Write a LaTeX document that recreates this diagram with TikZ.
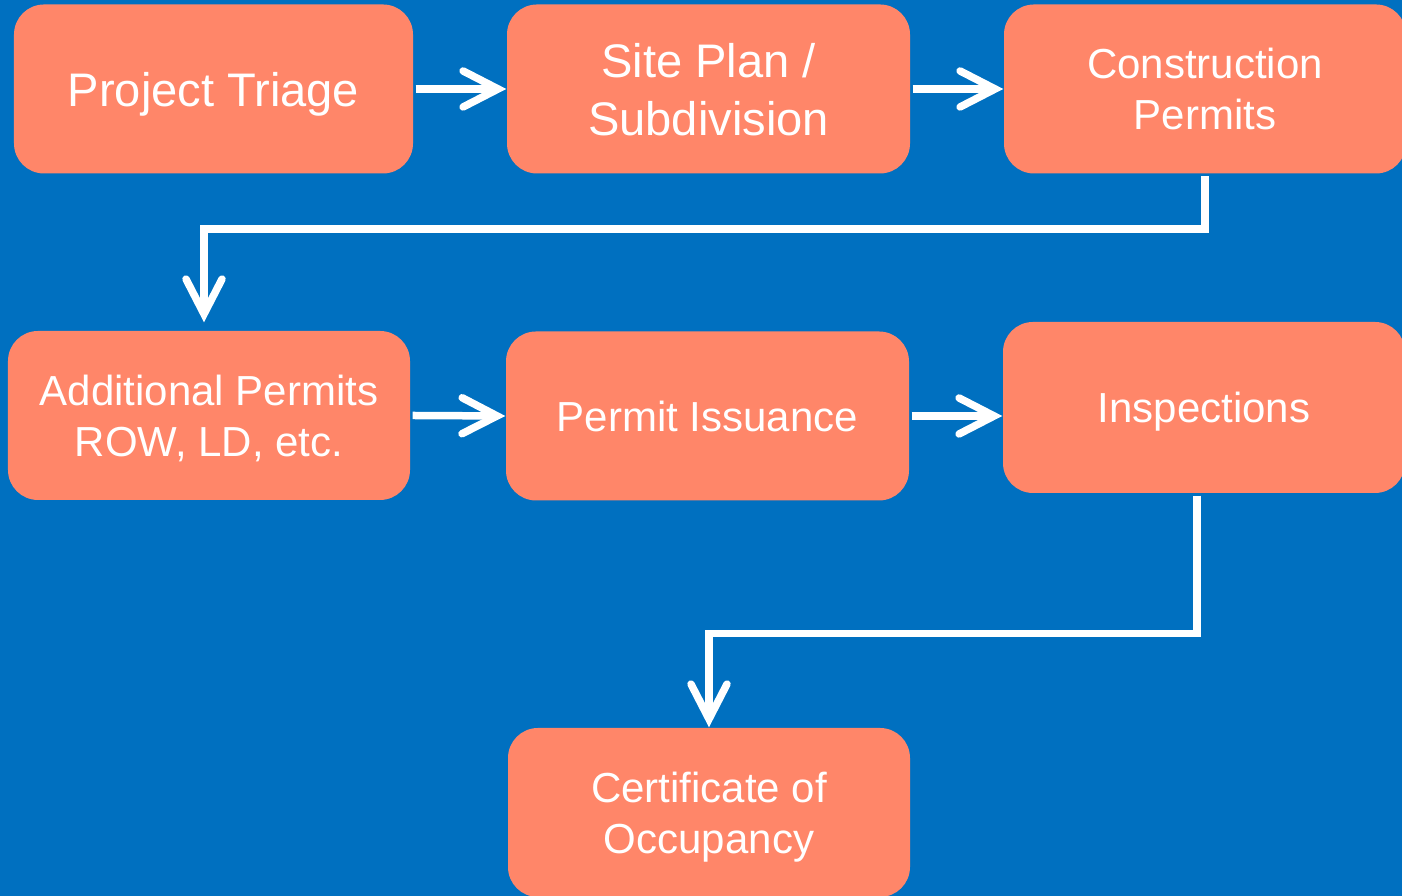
\documentclass[tikz,border=0pt]{standalone}
\usepackage{fontspec}
\setmainfont{Liberation Sans}
\usetikzlibrary{arrows.meta}
\definecolor{bgblue}{HTML}{0070C0}
\definecolor{salmon}{HTML}{FF8669}

\begin{document}
\begin{tikzpicture}[
        box/.style={fill=salmon,rounded corners=0.3cm,minimum width=4.02cm,minimum height=1.69cm,align=center,text=white,inner sep=0pt,text depth=0pt},
        big/.style={font=\fontsize{13.4}{16.5}\selectfont},
        small/.style={font=\fontsize{11.95}{14.5}\selectfont},
        flow/.style={draw=white,line width=0.075cm,shorten <=0.02cm,-{Straight Barb[length=0.35cm,width=0.36cm,line cap=round]}}
    ]
        \fill[bgblue] (0,0) rectangle (14.02,8.96);
        \clip (0,0) rectangle (14.02,8.96);
        \draw (2.135,8.07) node[box,big,minimum width=3.99cm](triage) {Project Triage};
        \draw (7.085,8.07) node[box,big,minimum width=4.03cm](site) {Site Plan /\\Subdivision};
        \draw (12.05,8.07) node[box,small](construction) {Construction\\Permits};
        \draw (2.09,4.805) node[box,small](additional) {Additional Permits\\ROW, LD, etc.};
        \draw (7.075,4.80) node[box,small,minimum width=4.03cm](issuance) {Permit Issuance};
        \draw (12.04,4.885) node[box,small,minimum height=1.71cm](inspections) {Inspections};
        \draw (7.09,0.835) node[box,small](certificate) {Certificate of\\Occupancy};
        \draw[flow] (triage.east) -- (site.west);
        \draw[flow] (site.east) -- (construction.west);
        \draw[flow,shorten >=0.08cm] (construction.south) -- ++(0,-0.55) -| ([xshift=-0.05cm]additional.north);
        \draw[flow] (additional.east) -- (issuance.west);
        \draw[flow] (issuance.east) -- (issuance.east -| inspections.west);
        \draw[flow] ([xshift=-0.07cm]inspections.south) -- ++(0,-1.40) -| (certificate.north);
    \end{tikzpicture}
\end{document}
